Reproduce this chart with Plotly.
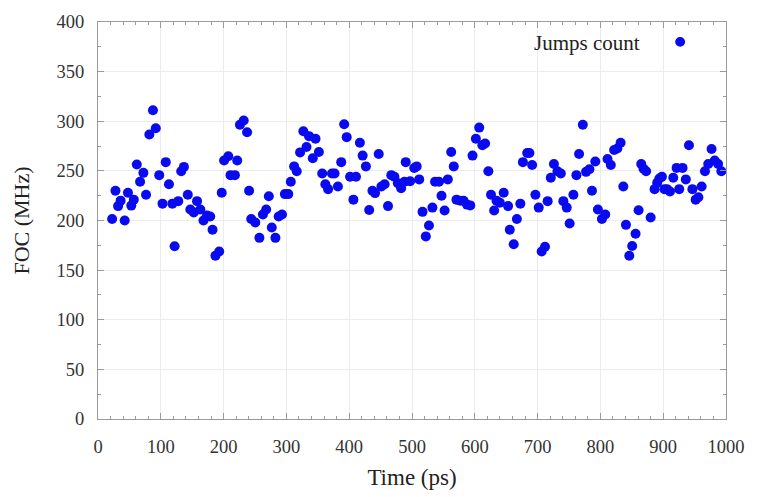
import plotly.graph_objects as go

time_ps = [22.5, 27.8, 32, 36, 42.5, 47.7, 53, 57, 61.8, 67, 72.3, 76.5, 81.8, 87.5, 92, 97.5,
           102.7, 107.9, 113, 118.4, 122, 127.8, 132.5, 136.8, 143, 147, 152.5, 157.7, 163, 168,
           173.5, 178.7, 182.4, 187, 193, 197, 200.8, 207.5, 211, 218, 221.7, 226, 232, 237.4,
           240.6, 244, 250.5, 257, 262.6, 267.8, 272, 276.7, 282.5, 287.7, 293, 297.6, 303, 307,
           312.3, 316.5, 321.8, 327, 332, 336, 342, 346.4, 351.7, 357, 362, 366.4, 372.6, 376.7,
           382, 387.3, 392, 396, 401.4, 406.7, 410.8, 417, 421.4, 426.6, 431.8, 437, 441.2, 447,
           451.3, 456.4, 461.8, 467, 472, 477.5, 482.7, 488, 490, 497, 503.6, 507.4, 511.5,
           516.8, 522, 527, 532.5, 536.7, 543, 547, 551.9, 557, 562.4, 566.5, 570.8, 577, 582,
           587.6, 592.8, 596.4, 601.7, 607, 612, 616.4, 621.6, 625.8, 630.8, 634.6, 639.8, 646,
           653, 655.7, 662, 667, 672.5, 676.6, 683.4, 687, 691.3, 696.5, 701.8, 706.5, 711.8,
           716, 721, 726, 731.6, 737, 741, 746.4, 751, 757, 761.8, 766, 772, 777.2, 782.5, 786.6,
           791.9, 796, 802.4, 807.7, 811.3, 816.6, 821.9, 827, 832.2, 836.5, 840.7, 846, 850.6,
           856, 860.8, 865, 868.7, 872.8, 880, 886.3, 890.4, 894, 898, 902, 906, 910.8, 916,
           921.4, 925.5, 930.8, 936, 941, 946.5, 951.7, 956, 961.2, 966.5, 971.7, 977, 982,
           987.4, 992.6]

foc_mhz = [201.5, 230, 214.5, 220, 200, 228, 215, 221, 256.5, 239, 248, 226, 286.6, 311, 293, 245.7,
           217, 258.8, 236.5, 217, 174, 219.5, 249.6, 254, 226, 211, 208, 219.5, 211, 200,
           205, 204, 190.7, 164.4, 168.7, 228, 260.4, 264.7, 245.7, 245.7, 260.4, 296.5, 300.7, 289,
           230, 201.5, 198, 182.5, 206, 211, 224.4, 193, 182.5, 204, 206, 226.6, 226.6, 239,
           254.5, 249.6, 268.6, 290, 274, 285, 262.7, 282.4, 269, 247.3, 236.5, 231.6, 247.3, 247.3,
           234.2, 258.8, 297, 284, 244, 221, 244, 278.4, 265.4, 254.5, 210.6, 230, 227.6, 267,
           234.2, 236.5, 214.5, 245.7, 244, 237.5, 232.5, 239, 258.8, 239.6, 252.9, 254.5, 241.4,
           208.7, 184, 195, 213, 239, 239, 225, 210, 241.4, 269, 254.5, 221, 220, 220,
           216, 215.2, 265.4, 282.4, 293.6, 275.8, 277.5, 249.6, 226, 210, 220, 218, 228,
           214.5, 190.7, 176, 201.5, 217, 258.8, 268, 268, 256, 226, 213, 168.7, 173.6,
           219.5, 243, 257, 249.6, 247.3, 219.5, 213, 197, 226, 245.7, 267, 296.5, 249, 251.6, 230,
           259.5, 211, 201.5, 206, 262, 256, 271, 272.6, 278.4, 234.2, 195.6, 164.4, 174.3,
           186.7, 210.3, 257, 252.2, 249.6, 203, 231.6, 238, 242.4, 244, 231.6, 231.6, 229.3, 243,
           253, 231.6, 253, 241.4, 275.8, 231.6, 221, 223.4, 234.2, 249.6, 257, 272, 260.4,
           257, 249.6]

x_ticks = [0, 100, 200, 300, 400, 500, 600, 700, 800, 900, 1000]
y_ticks = [0, 50, 100, 150, 200, 250, 300, 350, 400]
series_name = "Jumps count"

BLUE = "#0a0af0"
FONT = "Liberation Serif"

fig = go.Figure()
fig.add_trace(go.Scatter(
    x=time_ps, y=foc_mhz, mode="markers", name=series_name,
    marker=dict(color=BLUE, size=10, line=dict(width=0)),
    showlegend=False,
))

axis_common = dict(
    showline=True, linecolor="#9a9a9a", linewidth=1, mirror="ticks",
    ticks="inside", ticklen=6, tickcolor="#9a9a9a", tickwidth=1,
    showgrid=True, gridcolor="#ececec", gridwidth=1, zeroline=False,
    tickfont=dict(family=FONT, size=18.5, color="#333333"),
)

fig.update_xaxes(
    range=[0, 1000], tickvals=x_ticks, ticktext=[str(v) for v in x_ticks],
    minor=dict(ticks="inside", ticklen=3, dtick=20, tickcolor="#9a9a9a", showgrid=False),
    title=dict(text="Time (ps)", font=dict(family=FONT, size=23, color="#222222"), standoff=12),
    ticklabelstandoff=11,
    **axis_common,
)
fig.update_yaxes(
    range=[0, 400], tickvals=y_ticks, ticktext=[str(v) for v in y_ticks],
    minor=dict(ticks="inside", ticklen=3, dtick=25, tickcolor="#9a9a9a", showgrid=False),
    title=dict(text="FOC (MHz)", font=dict(family=FONT, size=22, color="#222222"), standoff=20),
    ticklabelstandoff=9,
    **axis_common,
)

# legend drawn as text + marker to the right (as in the reference)
fig.add_annotation(
    xref="paper", yref="paper", x=0.866, y=0.948, xanchor="right", yanchor="middle",
    text=series_name, showarrow=False, font=dict(family=FONT, size=21, color="#222222"),
)
fig.add_shape(
    type="circle", xref="paper", yref="paper",
    x0=0.927 - 0.0079, x1=0.927 + 0.0079, y0=0.950 - 0.0123, y1=0.950 + 0.0123,
    fillcolor=BLUE, line=dict(width=0),
)

fig.update_layout(
    width=757, height=497,
    margin=dict(l=98, r=24, t=13, b=77),
    paper_bgcolor="white", plot_bgcolor="white",
)

fig.write_html("out.html")
